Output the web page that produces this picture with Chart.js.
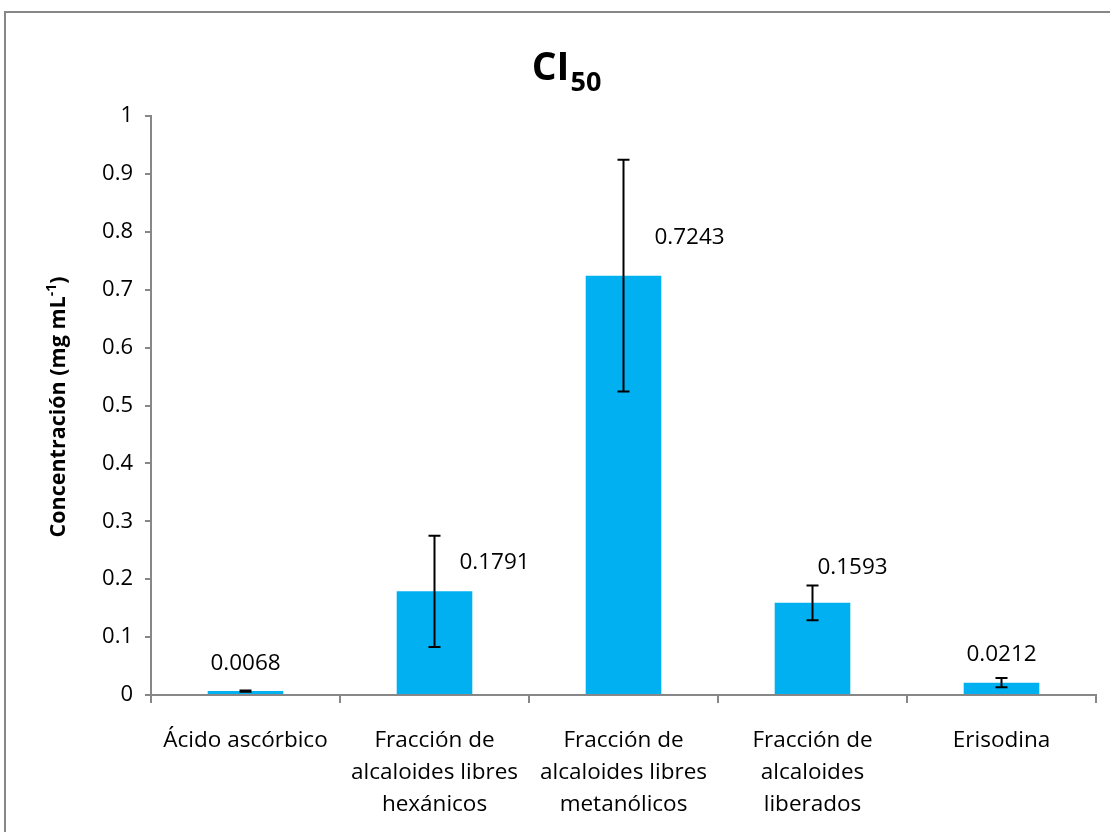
<!DOCTYPE html>
<html>
<head>
<meta charset="utf-8">
<script src="https://cdn.jsdelivr.net/npm/chart.js@4.4.0/dist/chart.umd.min.js"></script>
<style>
  html, body { margin: 0; padding: 0; background: #fff; }
  #wrap { width: 1110px; height: 832px; position: relative; }
</style>
</head>
<body>
<div id="wrap"><canvas id="ci-chart" width="1110" height="832"></canvas></div>
<script>
const categories = [
    'Ácido ascórbico',
    ['Fracción de', 'alcaloides libres', 'hexánicos'],
    ['Fracción de', 'alcaloides libres', 'metanólicos'],
    ['Fracción de', 'alcaloides', 'liberados'],
    'Erisodina'
];
const values = [0.0068, 0.1791, 0.7243, 0.1593, 0.0212];
const errors = [0.001, 0.096, 0.2, 0.03, 0.008];
const valueLabels = ['0.0068', '0.1791', '0.7243', '0.1593', '0.0212'];
const yTicks = [0, 0.1, 0.2, 0.3, 0.4, 0.5, 0.6, 0.7, 0.8, 0.9, 1];

const FONT = '"Open Sans", "Noto Sans", sans-serif';

// error bars, value labels, title with subscript, axis title with superscript
const decorPlugin = {
    id: 'decor',
    beforeDraw(chart) {
        const ctx = chart.ctx;
        ctx.save();
        ctx.strokeStyle = '#878787';
        ctx.lineWidth = 2;
        ctx.strokeRect(5, 12, 1120, 840);
        ctx.restore();
    },
    afterDatasetsDraw(chart) {
        const ctx = chart.ctx;
        const meta = chart.getDatasetMeta(0);
        const y = chart.scales.y;
        ctx.save();
        ctx.strokeStyle = '#000';
        ctx.lineWidth = 2;
        meta.data.forEach((bar, i) => {
            const top = y.getPixelForValue(values[i] + errors[i]);
            const bot = y.getPixelForValue(values[i] - errors[i]);
            const x = bar.x;
            ctx.beginPath();
            ctx.moveTo(x, top); ctx.lineTo(x, bot);
            ctx.moveTo(x - 6, top); ctx.lineTo(x + 6, top);
            ctx.moveTo(x - 6, bot); ctx.lineTo(x + 6, bot);
            ctx.stroke();
        });
        // value labels (placed like the original, offset from bar top)
        const offs = [[0, -27], [60, -29], [66, -38], [40, -35], [0, -28]];
        ctx.fillStyle = '#000';
        ctx.font = '22.5px ' + FONT;
        ctx.textAlign = 'center';
        ctx.textBaseline = 'middle';
        meta.data.forEach((bar, i) => {
            ctx.fillText(valueLabels[i], bar.x + offs[i][0], bar.y + offs[i][1]);
        });
        ctx.restore();
    },
    afterDraw(chart) {
        const ctx = chart.ctx;
        ctx.save();
        ctx.fillStyle = '#000';
        ctx.textBaseline = 'alphabetic';
        // title CI50
        ctx.font = 'bold 39px ' + FONT;
        ctx.textAlign = 'left';
        const w1 = ctx.measureText('CI').width;
        ctx.font = 'bold 27px ' + FONT;
        const w2 = ctx.measureText('50').width;
        const x0 = 566 - (w1 + w2) / 2;
        ctx.font = 'bold 39px ' + FONT;
        ctx.fillText('CI', x0, 80);
        ctx.font = 'bold 27px ' + FONT;
        ctx.fillText('50', x0 + w1 + 1, 91);
        // y axis title
        ctx.translate(65, 407);
        ctx.rotate(-Math.PI / 2);
        const main = 'Concentración (mg mL';
        ctx.font = 'bold 21.5px ' + FONT;
        const m1 = ctx.measureText(main).width;
        ctx.font = 'bold 14px ' + FONT;
        const m2 = ctx.measureText('-1').width;
        ctx.font = 'bold 21.5px ' + FONT;
        const m3 = ctx.measureText(')').width;
        let sx = -(m1 + m2 + m3) / 2;
        ctx.fillText(main, sx, 0);
        ctx.font = 'bold 14px ' + FONT;
        ctx.fillText('-1', sx + m1, -9);
        ctx.font = 'bold 21.5px ' + FONT;
        ctx.fillText(')', sx + m1 + m2, 0);
        ctx.restore();
    }
};

const ctx = document.getElementById('ci-chart').getContext('2d');
new Chart(ctx, {
    type: 'bar',
    data: {
        labels: categories,
        datasets: [{
            data: values,
            backgroundColor: '#00B0F0',
            borderWidth: 0,
            categoryPercentage: 1,
            barPercentage: 0.4
        }]
    },
    options: {
        responsive: false,
        animation: false,
        layout: { padding: { left: 0, top: 116, right: 14, bottom: 0 } },
        plugins: {
            legend: { display: false },
            tooltip: { enabled: false },
            title: { display: false }
        },
        scales: {
            y: {
                min: 0,
                max: 1,
                afterFit(scale) { scale.width = 151; },
                afterBuildTicks(scale) { scale.ticks = yTicks.map(v => ({ value: v })); },
                ticks: {
                    color: '#000',
                    font: { family: FONT, size: 22 },
                    padding: 12,
                    callback: v => String(Math.round(v * 10) / 10)
                },
                grid: { drawOnChartArea: false, color: '#878787', tickLength: 6, lineWidth: 2 },
                border: { color: '#878787', width: 2 }
            },
            x: {
                afterFit(scale) { scale.height = 137; },
                ticks: {
                    color: '#000',
                    font: { family: FONT, size: 22.5, lineHeight: 1.44 },
                    padding: 21,
                    maxRotation: 0,
                    autoSkip: false
                },
                grid: { drawOnChartArea: false, offset: true, color: '#878787', tickLength: 8, lineWidth: 2 },
                border: { color: '#878787', width: 2 }
            }
        }
    },
    plugins: [decorPlugin]
});
</script>
</body>
</html>
